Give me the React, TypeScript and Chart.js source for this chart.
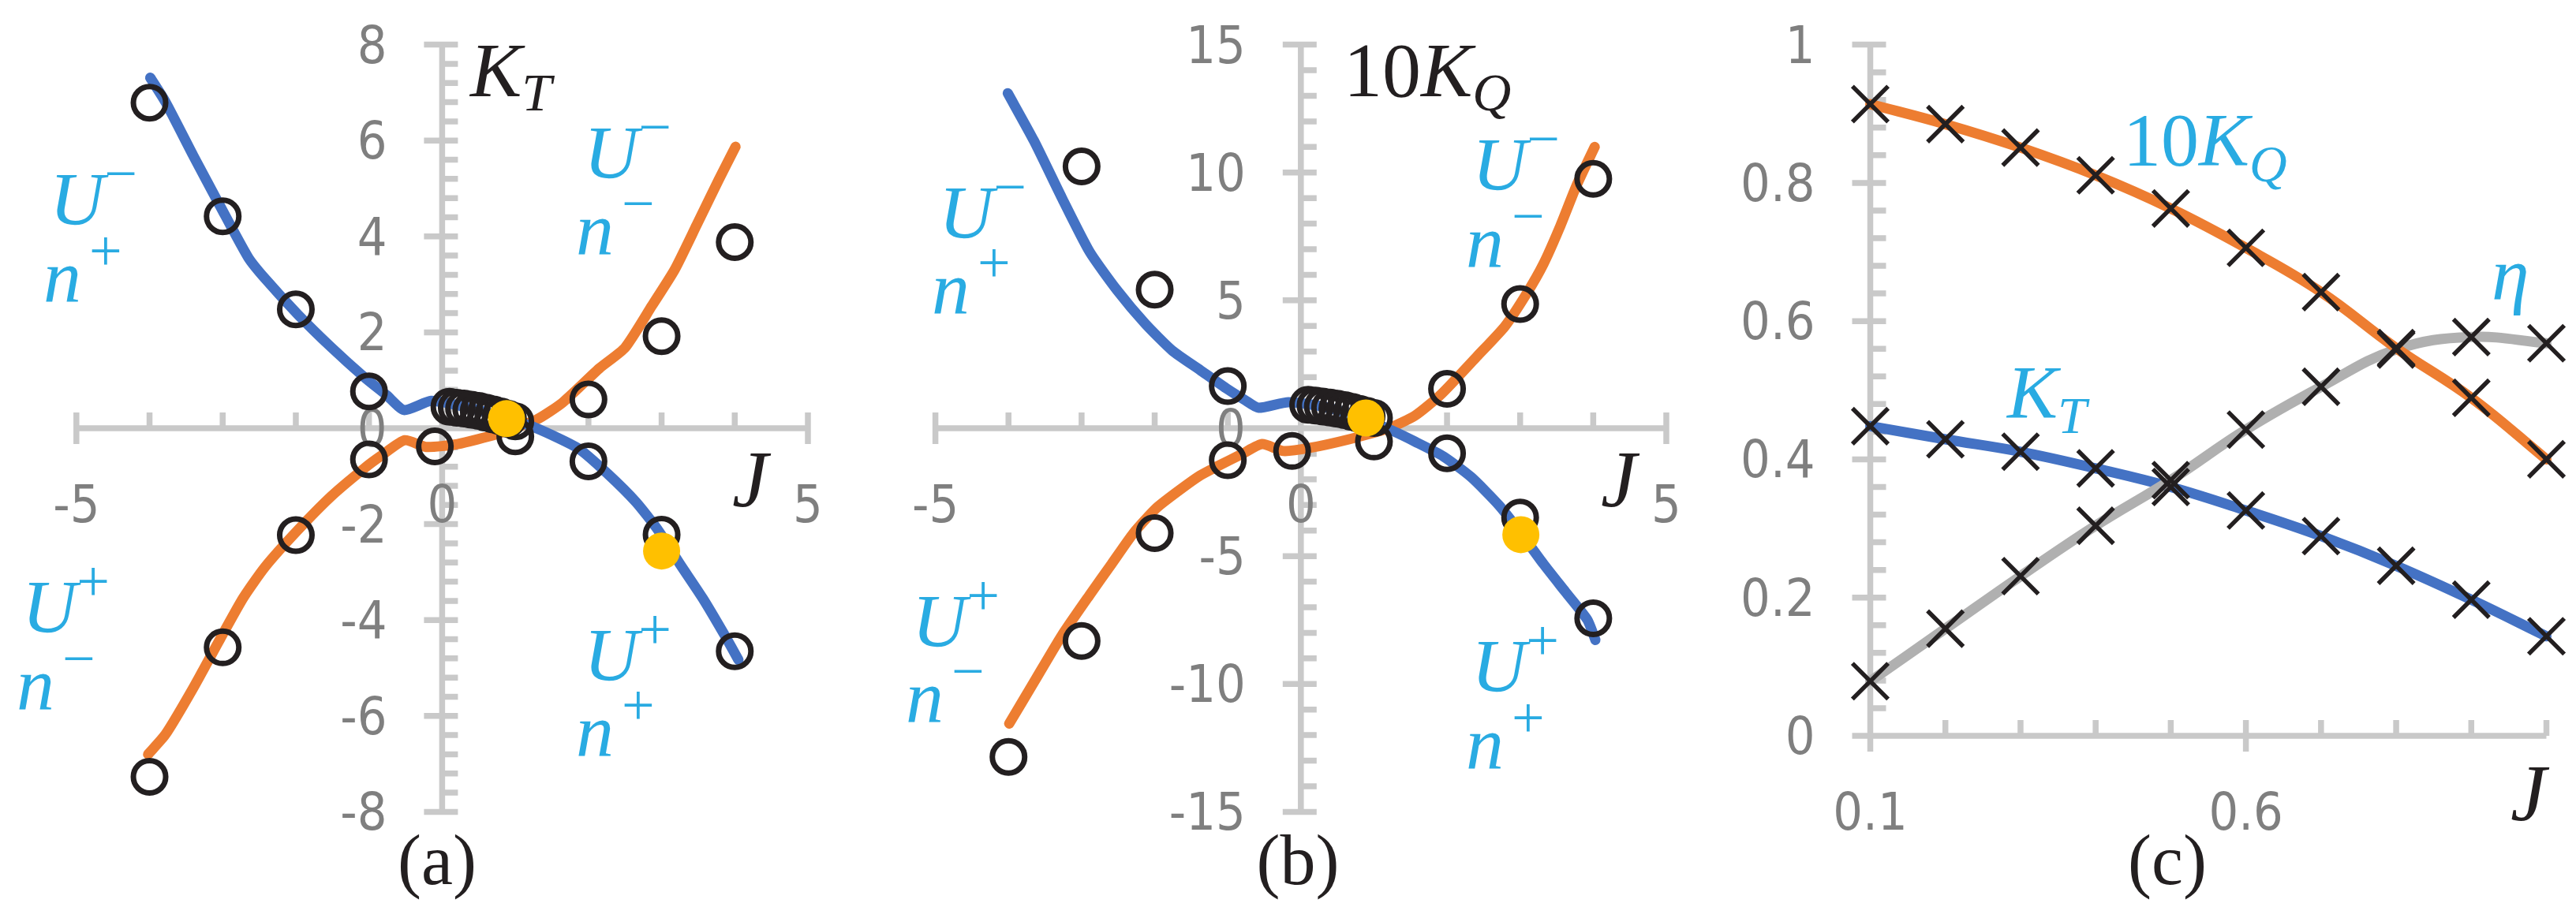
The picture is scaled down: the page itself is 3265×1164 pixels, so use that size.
import React, { useEffect, useRef } from 'react';
import { Chart, registerables } from 'chart.js';

Chart.register(...registerables);

// ---------------- DATA ----------------
// (a) K_T over the four quadrants
const aBlueJ = [-3.99, -3.78, -3.4, -3.03, -2.65, -2.42, -1.97, -1.51, -1.06, -0.76, -0.52, -0.15, 0.3, 0.8, 1.29, 1.86, 2.27, 2.65, 2.95, 3.25, 3.56, 3.86, 4.05];
const aBlueK = [7.31, 6.8, 5.68, 4.62, 3.56, 3.12, 2.37, 1.68, 1.06, 0.69, 0.38, 0.57, 0.45, 0.25, 0.0, -0.42, -0.96, -1.54, -2.12, -2.83, -3.54, -4.31, -4.83];
const aOrangeJ = [-4.02, -3.78, -3.4, -3.03, -2.72, -2.42, -1.97, -1.51, -1.06, -0.83, -0.51, -0.22, 0.21, 0.75, 1.29, 1.65, 2.15, 2.5, 2.87, 3.18, 3.48, 3.78, 4.01];
const aOrangeK = [-6.8, -6.38, -5.41, -4.38, -3.54, -2.89, -2.12, -1.41, -0.83, -0.57, -0.25, -0.39, -0.33, -0.12, 0.18, 0.54, 1.25, 1.68, 2.56, 3.31, 4.24, 5.18, 5.87];
const aOpenJ = [-4, -3, -2, -1, 2, 3, 4, -4, -3, -2, -1, -0.1, 1, 2, 3, 4];
const aOpenK = [6.79, 4.42, 2.48, 0.77, 0.6, 1.92, 3.88, -7.27, -4.57, -2.23, -0.65, -0.38, -0.17, -0.69, -2.22, -4.65];
const aDesignJ = [0.88, 3.0];
const aDesignK = [0.2, -2.56];

// (b) 10K_Q over the four quadrants
const bBlueJ = [-4.01, -3.65, -3.27, -2.89, -2.51, -2.13, -1.76, -1.38, -1.0, -0.77, -0.58, -0.17, 0.3, 0.8, 1.27, 1.56, 1.95, 2.33, 2.71, 3.01, 3.32, 3.62, 3.92, 4.03];
const bBlueK = [13.1, 11.23, 9.01, 6.9, 5.38, 4.09, 3.04, 2.28, 1.52, 1.11, 0.8, 1.02, 0.85, 0.45, -0.12, -0.52, -1.1, -1.91, -3.01, -4.1, -5.31, -6.4, -7.49, -8.28];
const bOrangeJ = [-3.99, -3.65, -3.27, -2.89, -2.59, -2.29, -1.98, -1.68, -1.38, -1.15, -0.8, -0.53, -0.24, 0.12, 0.66, 1.2, 1.56, 1.92, 2.41, 2.79, 3.09, 3.32, 3.54, 3.77, 4.02];
const bOrangeK = [-11.55, -9.92, -8.1, -6.52, -5.31, -4.1, -3.13, -2.46, -1.85, -1.5, -1.0, -0.62, -0.89, -0.77, -0.43, 0.0, 0.49, 1.33, 2.81, 3.98, 5.27, 6.43, 7.84, 9.48, 11.0];
const bOpenJ = [-3, -2, -1, 2, 3, 4, -4, -3, -2, -1, -0.12, 1, 2, 3, 4];
const bOpenK = [10.24, 5.42, 1.65, 1.54, 4.86, 9.75, -12.85, -8.32, -4.1, -1.25, -0.89, -0.52, -0.98, -3.49, -7.43];
const bDesignJ = [0.89, 3.01];
const bDesignK = [0.4, -4.16];

// (c) first quadrant open-water curves
const cJ = [0.1, 0.2, 0.3, 0.4, 0.5, 0.6, 0.7, 0.8, 0.9, 1.0];
const cKQ10 = [0.914, 0.885, 0.851, 0.811, 0.763, 0.706, 0.642, 0.561, 0.489, 0.4];
const cKT = [0.448, 0.429, 0.411, 0.387, 0.36, 0.326, 0.289, 0.246, 0.197, 0.144];
const cEta = [0.079, 0.155, 0.231, 0.304, 0.37, 0.443, 0.505, 0.559, 0.577, 0.568];

// tick labels
const abXLabels = [-5, 0, 5];
const abXMajors = [-5, 0, 5];
const aYLabels = [-8, -6, -4, -2, 0, 2, 4, 6, 8];
const bYLabels = [-15, -10, -5, 0, 5, 10, 15];
const cXLabels = [0.1, 0.6];
const cYLabels = [0, 0.2, 0.4, 0.6, 0.8, 1];

// ---------------- STYLE ----------------
const H = 1164;
const BLUE = '#4472c4';
const ORANGE = '#ed7d31';
const GRAY = '#b0b0b0';
const INK = '#231f20';
const GOLD = '#ffc000';
const AXIS = '#c9c9c9';
const LABEL = '#7f7f7f';
const NOTE = '#29abe2';
const SERIF = '"Liberation Serif", "DejaVu Serif", serif';
const TICK_FAMILY = '"Liberation Sans Narrow", "DejaVu Sans Condensed", "Liberation Sans", sans-serif';

type Run = { t: string; size: number; italic?: boolean; dx?: number; dy?: number };
type Note = { x: number; y: number; color: string; runs: Run[]; align?: 'left' | 'center' };
type AxisSpec = { min: number; max: number; cross: number; majors: number[]; minorStep: number; labels: number[] };
type PanelSpec = {
  left: number;
  width: number;
  padding: { left: number; right: number; top: number; bottom: number };
  x: AxisSpec;
  y: AxisSpec;
  datasets: () => any[];
  notes: Note[];
};

const pts = (xs: number[], ys: number[]) => xs.map((x, i) => ({ x, y: ys[i] }));

const lineDs = (xs: number[], ys: number[], color: string, tension: number) => ({
  data: pts(xs, ys),
  showLine: true,
  borderColor: color,
  backgroundColor: color,
  borderWidth: 13,
  pointRadius: 0,
  tension,
  fill: false,
  clip: false,
  borderCapStyle: 'round',
  borderJoinStyle: 'round',
});

const circleDs = (xs: number[], ys: number[]) => ({
  data: pts(xs, ys),
  showLine: false,
  pointStyle: 'circle',
  pointRadius: 20.5,
  pointBorderWidth: 7,
  borderColor: INK,
  pointBorderColor: INK,
  backgroundColor: 'rgba(0,0,0,0)',
  pointBackgroundColor: 'rgba(0,0,0,0)',
  clip: false,
});

const dotDs = (xs: number[], ys: number[]) => ({
  data: pts(xs, ys),
  showLine: false,
  pointStyle: 'circle',
  pointRadius: 23.5,
  pointBorderWidth: 0,
  borderColor: GOLD,
  backgroundColor: GOLD,
  pointBackgroundColor: GOLD,
  clip: false,
});

const crossDs = (xs: number[], ys: number[]) => ({
  data: pts(xs, ys),
  showLine: false,
  pointStyle: 'crossRot',
  pointRadius: 32,
  pointBorderWidth: 5.5,
  borderColor: INK,
  pointBorderColor: INK,
  backgroundColor: INK,
  clip: false,
});

const supLabel = (base: string, sign: string, color: string, x: number, y: number, gap: number): Note => ({
  x,
  y,
  color,
  runs: [
    { t: base, size: 96, italic: true },
    { t: sign, size: 74, dx: gap, dy: -40 },
  ],
});

const steps = (min: number, max: number, step: number) => {
  const n = Math.round((max - min) / step);
  const out: number[] = [];
  for (let i = 0; i <= n; i++) out.push(min + i * step);
  return out;
};

const fmt = (v: number) => String(Math.round(v * 1000) / 1000);

function drawAxes(chart: any, spec: PanelSpec) {
  const { ctx } = chart;
  const xs = chart.scales.x;
  const ys = chart.scales.y;
  const xAxisY = ys.getPixelForValue(spec.x.cross);
  const yAxisX = xs.getPixelForValue(spec.y.cross);
  const T = 20;
  ctx.save();
  ctx.strokeStyle = AXIS;
  ctx.lineWidth = 7.5;
  ctx.lineCap = 'butt';
  ctx.beginPath();
  ctx.moveTo(xs.getPixelForValue(spec.x.min), xAxisY);
  ctx.lineTo(xs.getPixelForValue(spec.x.max), xAxisY);
  ctx.moveTo(yAxisX, ys.getPixelForValue(spec.y.min));
  ctx.lineTo(yAxisX, ys.getPixelForValue(spec.y.max));
  for (const v of steps(spec.x.min, spec.x.max, spec.x.minorStep)) {
    const p = xs.getPixelForValue(v);
    ctx.moveTo(p, xAxisY);
    ctx.lineTo(p, xAxisY - T);
  }
  for (const v of spec.x.majors) {
    const p = xs.getPixelForValue(v);
    ctx.moveTo(p, xAxisY - T);
    ctx.lineTo(p, xAxisY + T);
  }
  for (const v of steps(spec.y.min, spec.y.max, spec.y.minorStep)) {
    const p = ys.getPixelForValue(v);
    ctx.moveTo(yAxisX, p);
    ctx.lineTo(yAxisX + T, p);
  }
  for (const v of spec.y.majors) {
    const p = ys.getPixelForValue(v);
    ctx.moveTo(yAxisX - T - 3, p);
    ctx.lineTo(yAxisX + T, p);
  }
  ctx.stroke();

  ctx.fillStyle = LABEL;
  ctx.font = `66px ${TICK_FAMILY}`;
  ctx.textBaseline = 'alphabetic';
  ctx.textAlign = 'center';
  for (const v of spec.x.labels) ctx.fillText(fmt(v), xs.getPixelForValue(v), xAxisY + 119);
  ctx.textAlign = 'right';
  for (const v of spec.y.labels) ctx.fillText(fmt(v), yAxisX - 70, ys.getPixelForValue(v) + 23);
  ctx.restore();
}

function drawNotes(ctx: CanvasRenderingContext2D, notes: Note[]) {
  ctx.save();
  ctx.textBaseline = 'alphabetic';
  ctx.textAlign = 'left';
  for (const n of notes) {
    const fontOf = (r: Run) => `${r.italic ? 'italic ' : ''}${r.size}px ${SERIF}`;
    let total = 0;
    for (const r of n.runs) {
      ctx.font = fontOf(r);
      total += (r.dx ?? 0) + ctx.measureText(r.t).width;
    }
    let cx = n.align === 'center' ? n.x - total / 2 : n.x;
    ctx.fillStyle = n.color;
    for (const r of n.runs) {
      ctx.font = fontOf(r);
      cx += r.dx ?? 0;
      ctx.fillText(r.t, cx, n.y + (r.dy ?? 0));
      cx += ctx.measureText(r.t).width;
    }
  }
  ctx.restore();
}

const quadNotes = (p: { tl: [number, number, number, number]; tr: [number, number, number, number]; bl: [number, number, number, number]; br: [number, number, number, number] }): Note[] => [
  supLabel('U', '\u2212', NOTE, p.tl[0], p.tl[1], 0),
  supLabel('n', '+', NOTE, p.tl[2], p.tl[3], 10),
  supLabel('U', '\u2212', NOTE, p.tr[0], p.tr[1], 0),
  supLabel('n', '\u2212', NOTE, p.tr[2], p.tr[3], 10),
  supLabel('U', '+', NOTE, p.bl[0], p.bl[1], 0),
  supLabel('n', '\u2212', NOTE, p.bl[2], p.bl[3], 10),
  supLabel('U', '+', NOTE, p.br[0], p.br[1], 0),
  supLabel('n', '+', NOTE, p.br[2], p.br[3], 10),
];

const panelA: PanelSpec = {
  left: 0,
  width: 1100,
  padding: { left: 96.8, right: 76, top: 56.6, bottom: H - 1029.4 },
  x: { min: -5, max: 5, cross: 0, majors: abXMajors, minorStep: 1, labels: abXLabels },
  y: { min: -8, max: 8, cross: 0, majors: aYLabels, minorStep: 0.4, labels: aYLabels },
  datasets: () => [
    dotDs(aDesignJ, aDesignK),
    circleDs(cJ, cKT),
    circleDs(aOpenJ, aOpenK),
    lineDs(aBlueJ, aBlueK, BLUE, 0.2),
    lineDs(aOrangeJ, aOrangeK, ORANGE, 0.2),
  ],
  notes: [
    { x: 596, y: 122, color: INK, runs: [{ t: 'K', size: 98, italic: true }, { t: 'T', size: 68, italic: true, dy: 18 }] },
    { x: 928, y: 642, color: INK, runs: [{ t: 'J', size: 102, italic: true }] },
    { x: 554, y: 1121, color: INK, align: 'center', runs: [{ t: '(a)', size: 90 }] },
    ...quadNotes({ tl: [63, 285, 55, 383], tr: [740, 226, 730, 323], bl: [28, 802, 21, 900], br: [740, 863, 730, 959] }),
  ],
};

const panelB: PanelSpec = {
  left: 1100,
  width: 1100,
  padding: { left: 85.6, right: 88, top: 56.6, bottom: H - 1029.4 },
  x: { min: -5, max: 5, cross: 0, majors: abXMajors, minorStep: 1, labels: abXLabels },
  y: { min: -15, max: 15, cross: 0, majors: bYLabels, minorStep: 1, labels: bYLabels },
  datasets: () => [
    dotDs(bDesignJ, bDesignK),
    circleDs(cJ, cKQ10),
    circleDs(bOpenJ, bOpenK),
    lineDs(bBlueJ, bBlueK, BLUE, 0.2),
    lineDs(bOrangeJ, bOrangeK, ORANGE, 0.2),
  ],
  notes: [
    {
      x: 603,
      y: 122,
      color: INK,
      runs: [{ t: '10', size: 98 }, { t: 'K', size: 98, italic: true }, { t: 'Q', size: 68, italic: true, dy: 18 }],
    },
    { x: 929, y: 642, color: INK, runs: [{ t: 'J', size: 102, italic: true }] },
    { x: 545, y: 1121, color: INK, align: 'center', runs: [{ t: '(b)', size: 90 }] },
    ...quadNotes({ tl: [90, 302, 81, 398], tr: [766, 241, 758, 339], bl: [56, 820, 48, 916], br: [765, 877, 758, 975] }),
  ],
};

const panelC: PanelSpec = {
  left: 2200,
  width: 1065,
  padding: { left: 170.5, right: 1065 - 1032.6, top: 56.6, bottom: H - 933 },
  x: { min: 0.1, max: 1.0, cross: 0, majors: [0.1, 0.6], minorStep: 0.1, labels: cXLabels },
  y: { min: 0, max: 1, cross: 0.1, majors: cYLabels, minorStep: 0.04, labels: cYLabels },
  datasets: () => [
    crossDs(cJ, cKQ10),
    crossDs(cJ, cKT),
    crossDs(cJ, cEta),
    lineDs(cJ, cKQ10, ORANGE, 0.4),
    lineDs(cJ, cEta, GRAY, 0.4),
    lineDs(cJ, cKT, BLUE, 0.4),
  ],
  notes: [
    {
      x: 491,
      y: 210,
      color: NOTE,
      runs: [{ t: '10', size: 96 }, { t: 'K', size: 96, italic: true }, { t: 'Q', size: 66, italic: true, dy: 20 }],
    },
    { x: 344, y: 530, color: NOTE, runs: [{ t: 'K', size: 96, italic: true }, { t: 'T', size: 66, italic: true, dy: 19 }] },
    { x: 958, y: 380, color: NOTE, runs: [{ t: '\u03b7', size: 96, italic: true }] },
    { x: 982, y: 1040, color: INK, runs: [{ t: 'J', size: 102, italic: true }] },
    { x: 547, y: 1121, color: INK, align: 'center', runs: [{ t: '(c)', size: 90 }] },
  ],
};

function Panel({ spec }: { spec: PanelSpec }) {
  const ref = useRef<HTMLCanvasElement>(null);
  useEffect(() => {
    const canvas = ref.current;
    if (!canvas) return;
    const axesPlugin = {
      id: 'crossAxes',
      beforeDatasetsDraw(chart: any) {
        drawAxes(chart, spec);
      },
    };
    const notesPlugin = {
      id: 'notes',
      afterDraw(chart: any) {
        drawNotes(chart.ctx, spec.notes);
      },
    };
    const chart = new Chart(canvas, {
      type: 'scatter',
      data: { datasets: spec.datasets() as any },
      options: {
        animation: false,
        responsive: false,
        maintainAspectRatio: false,
        devicePixelRatio: 1,
        events: [],
        layout: { padding: spec.padding },
        plugins: { legend: { display: false }, tooltip: { enabled: false } },
        scales: {
          x: { type: 'linear', min: spec.x.min, max: spec.x.max, display: false },
          y: { type: 'linear', min: spec.y.min, max: spec.y.max, display: false },
        },
      } as any,
      plugins: [axesPlugin, notesPlugin],
    });
    return () => chart.destroy();
  }, [spec]);
  return (
    <canvas
      ref={ref}
      width={spec.width}
      height={H}
      style={{ position: 'absolute', left: spec.left, top: 0, width: spec.width, height: H }}
    />
  );
}

export default function App() {
  return (
    <div style={{ position: 'relative', width: 3265, height: H, background: '#ffffff', overflow: 'hidden' }}>
      <style>{'html,body{margin:0;padding:0;background:#fff;overflow:hidden;}'}</style>
      <Panel spec={panelA} />
      <Panel spec={panelB} />
      <Panel spec={panelC} />
    </div>
  );
}
